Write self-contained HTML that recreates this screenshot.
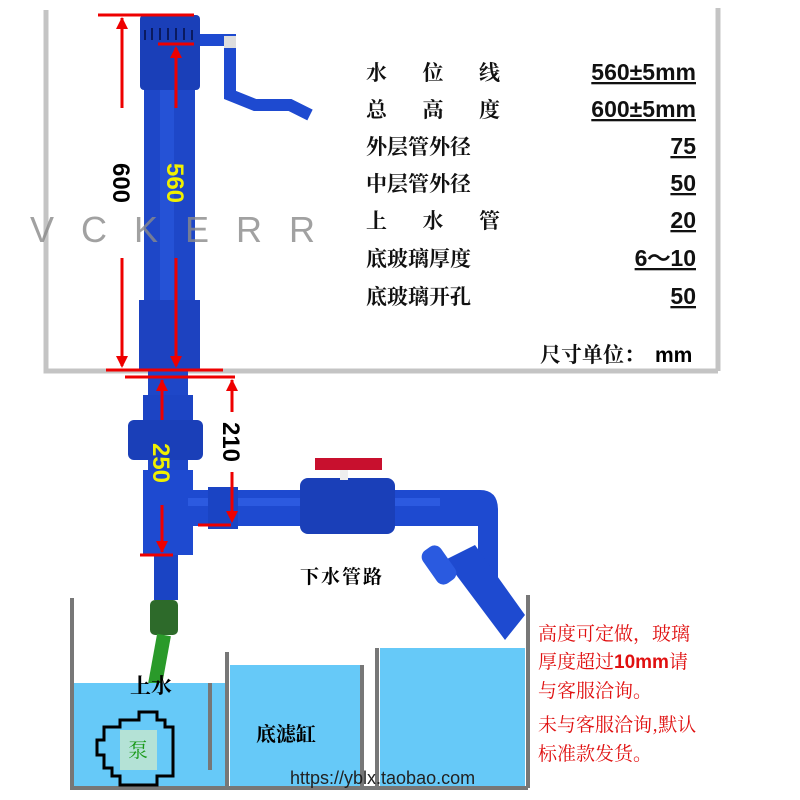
<!DOCTYPE html>
<html><head><meta charset="utf-8"><style>
body{margin:0;width:800px;height:800px;background:#fff;overflow:hidden}
svg{display:block}
.l{font-family:"Noto Serif CJK SC","Noto Sans CJK SC",serif;font-size:21px;fill:#111;font-weight:bold}
.v{font-family:"Liberation Sans",sans-serif;font-weight:bold;font-size:23px;fill:#111;text-decoration:underline}
.r{font-family:"Noto Serif CJK SC","Noto Sans CJK SC",serif;font-size:19px;fill:#e01010}
</style></head><body>
<svg width="800" height="800" viewBox="0 0 800 800" xmlns="http://www.w3.org/2000/svg">
<path d="M46 10 V371 H718 M718 8 V371" stroke="#c4c4c4" stroke-width="5" fill="none"/>
<rect x="140" y="15" width="60" height="75" rx="4" fill="#1a3fb8"/>
<g stroke="#0a1a60" stroke-width="2"><line x1="145" y1="30" x2="145" y2="40"/><line x1="152" y1="28" x2="152" y2="40"/><line x1="160" y1="28" x2="160" y2="40"/><line x1="168" y1="28" x2="168" y2="40"/><line x1="176" y1="28" x2="176" y2="40"/><line x1="184" y1="28" x2="184" y2="40"/><line x1="192" y1="30" x2="192" y2="40"/></g>
<rect x="144" y="90" width="51" height="212" fill="#1e47c8"/>
<rect x="160" y="90" width="14" height="212" fill="#2a5ae0" opacity="0.6"/>
<rect x="139" y="300" width="61" height="70" fill="#1d42c0"/>
<rect x="148" y="370" width="40" height="185" fill="#1e47c8"/>
<rect x="143" y="395" width="50" height="25" fill="#1c44c4"/>
<rect x="128" y="420" width="75" height="40" rx="6" fill="#1a3fb8"/>
<rect x="143" y="470" width="50" height="85" fill="#1e4ad0"/>
<path d="M200 40 H230 V70 M230 70 V95 L255 105 H290 L310 115" stroke="#1e4ad0" stroke-width="12" fill="none"/>
<rect x="224" y="36" width="12" height="12" fill="#ddd"/>
<text x="30" y="242" font-family="Liberation Sans,sans-serif" font-size="36" fill="#8a8a8a" letter-spacing="27" opacity="0.8">VCKERR</text>
<rect x="188" y="490" width="270" height="36" fill="#1e4ad0"/>
<rect x="188" y="498" width="270" height="8" fill="#3a6af0" opacity="0.5"/>
<rect x="208" y="487" width="30" height="42" fill="#1a44c4"/>
<rect x="300" y="478" width="95" height="56" rx="8" fill="#1a3fb8"/>
<rect x="340" y="468" width="8" height="12" fill="#eee"/>
<path d="M315 458 H382 V470 H315Z" fill="#c8102e"/>
<path d="M440 490 H480 Q498 490 498 510 V600 H478 V526 H440Z" fill="#1e4ad0"/>
<path d="M445 560 L475 545 L525 615 L505 640Z" fill="#1e4ad0"/>
<rect x="428" y="545" width="22" height="40" rx="8" transform="rotate(-35 439 565)" fill="#2a5ae0"/>
<rect x="154" y="555" width="24" height="45" fill="#1a44c4"/>
<rect x="150" y="600" width="28" height="35" rx="5" fill="#2d6a2a"/>
<path d="M164 635 L150 712" stroke="#2a9a2a" stroke-width="14" fill="none"/>
<g stroke="#e00" stroke-width="3" fill="none">
<line x1="98" y1="15" x2="194" y2="15"/><line x1="158" y1="44" x2="194" y2="44"/>
<line x1="122" y1="18" x2="122" y2="108"/><line x1="122" y1="258" x2="122" y2="366"/>
<line x1="176" y1="48" x2="176" y2="108"/><line x1="176" y1="258" x2="176" y2="366"/>
<line x1="106" y1="370" x2="223" y2="370"/><line x1="125" y1="377" x2="235" y2="377"/>
<line x1="232" y1="380" x2="232" y2="412"/><line x1="232" y1="472" x2="232" y2="520"/>
<line x1="198" y1="525" x2="231" y2="525"/>
<line x1="162" y1="380" x2="162" y2="420"/><line x1="162" y1="505" x2="162" y2="552"/>
<line x1="140" y1="555" x2="173" y2="555"/>
</g>
<g fill="#e00">
<path d="M122 17 l-6 12 h12z"/><path d="M122 368 l-6 -12 h12z"/>
<path d="M176 46 l-6 12 h12z"/><path d="M176 368 l-6 -12 h12z"/>
<path d="M232 379 l-6 12 h12z"/><path d="M232 523 l-6 -12 h12z"/>
<path d="M162 379 l-6 12 h12z"/><path d="M162 553 l-6 -12 h12z"/>
</g>
<g font-family="Liberation Sans,sans-serif" font-weight="bold" font-size="24">
<text transform="translate(113,183) rotate(90)" text-anchor="middle" fill="#000">600</text>
<text transform="translate(167,183) rotate(90)" text-anchor="middle" fill="#f0f000">560</text>
<text transform="translate(223,442) rotate(90)" text-anchor="middle" fill="#000">210</text>
<text transform="translate(153,463) rotate(90)" text-anchor="middle" fill="#f0f000">250</text>
</g>
<text class="l" x="366" y="80" textLength="134">水位线</text>
<text class="l" x="366" y="117" textLength="134">总高度</text>
<text class="l" x="366" y="154">外层管外径</text>
<text class="l" x="366" y="191">中层管外径</text>
<text class="l" x="366" y="228" textLength="134">上水管</text>
<text class="l" x="366" y="266">底玻璃厚度</text>
<text class="l" x="366" y="304">底玻璃开孔</text>
<g text-anchor="end">
<text class="v" x="696" y="80">560±5mm</text>
<text class="v" x="696" y="117">600±5mm</text>
<text class="v" x="696" y="154">75</text>
<text class="v" x="696" y="191">50</text>
<text class="v" x="696" y="228">20</text>
<text class="v" x="696" y="266">6～10</text>
<text class="v" x="696" y="304">50</text>
</g>
<text class="l" x="540" y="362" font-size="19">尺寸单位：</text>
<text x="655" y="362" font-family="Liberation Sans,sans-serif" font-weight="bold" font-size="21">mm</text>
<rect x="74" y="683" width="151" height="103" fill="#66c9f8"/>
<rect x="230" y="665" width="131" height="121" fill="#66c9f8"/>
<rect x="380" y="648" width="145" height="138" fill="#66c9f8"/>
<path d="M72 598 V788 H528 M528 595 V788 M227 652 V788 M362 665 V788 M377 648 V788" stroke="#777" stroke-width="4" fill="none"/>
<path d="M210 683 V770" stroke="#777" stroke-width="4"/>
<path d="M139 712 H157 V720 H165 V727 H173 V776 H157 V785 H120 V776 H112 V768 H104 V755 H97 V740 H104 V727 H120 V720 H139Z" fill="#66c9f8" stroke="#000" stroke-width="3"/>
<rect x="120" y="730" width="37" height="40" fill="#b4e2d6"/>
<text x="138" y="757" text-anchor="middle" font-family="Noto Serif CJK SC,Noto Sans CJK SC,serif" font-size="20" fill="#1a9a1a">泵</text>
<text x="130" y="693" font-family="Noto Serif CJK SC,Noto Sans CJK SC,serif" font-size="21" fill="#000" font-weight="bold">上水</text>
<text x="256" y="741" font-family="Noto Serif CJK SC,Noto Sans CJK SC,serif" font-size="20" fill="#000" font-weight="bold">底滤缸</text>
<text x="300" y="583" font-family="Noto Serif CJK SC,Noto Sans CJK SC,serif" font-size="19" fill="#000" letter-spacing="2" font-weight="bold">下水管路</text>
<text x="290" y="784" font-family="Liberation Sans,sans-serif" font-size="18" fill="#222">https://yblx.taobao.com</text>
<text class="r" x="538" y="640">高度可定做，玻璃</text>
<text class="r" x="538" y="668">厚度超过<tspan font-family="Liberation Sans,sans-serif" font-weight="bold">10mm</tspan>请</text>
<text class="r" x="538" y="697">与客服洽询。</text>
<text class="r" x="538" y="731">未与客服洽询,默认</text>
<text class="r" x="538" y="760">标准款发货。</text>
</svg>
</body></html>
